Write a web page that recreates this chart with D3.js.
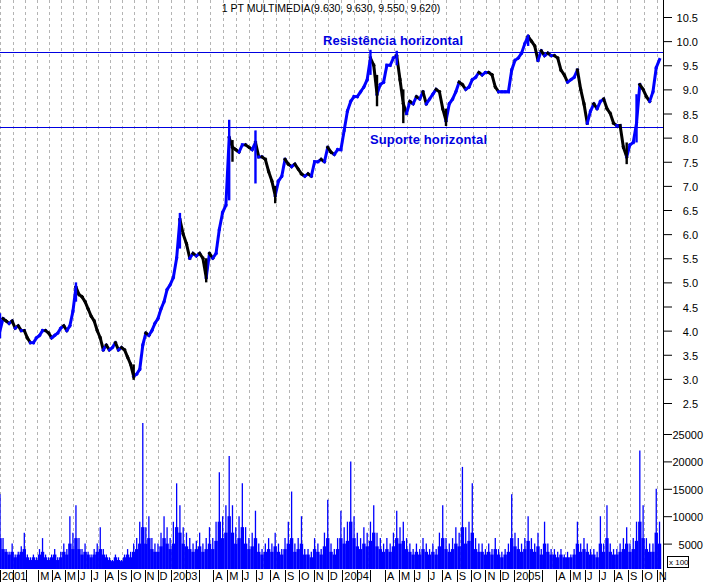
<!DOCTYPE html>
<html><head><meta charset="utf-8">
<script src="https://cdn.jsdelivr.net/npm/d3@7"></script>
<style>
body{margin:0;background:#fff;}
svg{display:block;font-family:"Liberation Sans",Arial,sans-serif;}
</style></head><body><svg id="c" width="707" height="582"></svg>
<script>
const title = "1 PT MULTIMEDIA(9.630, 9.630, 9.550, 9.620)";
const firstWeek = new Date(2001, 11, 3);
const lastDay = new Date(2005, 10, 8);
// weekly closing prices (EUR)
const closes = [
4.0,4.25,4.2,4.15,4.2,4.05,4.1,4.0,4.0,3.85,3.75,3.75,3.85,3.9,4.0,4.0,3.95,3.85,3.9,3.95,
4.05,4.1,4.0,4.1,4.4,4.9,4.75,4.7,4.6,4.45,4.3,4.2,4.0,3.85,3.6,3.7,3.6,3.65,3.75,3.6,
3.65,3.6,3.45,3.3,3.05,3.1,3.2,3.7,3.95,3.9,4.0,4.15,4.25,4.45,4.6,4.85,4.95,5.1,5.5,6.3,
6.0,5.8,5.5,5.6,5.55,5.6,5.5,5.1,5.6,5.5,5.6,6.1,6.45,6.6,8.0,7.8,7.75,7.7,7.85,7.85,
7.8,7.75,7.9,7.6,7.6,7.55,7.3,7.1,6.8,7.1,7.2,7.55,7.45,7.4,7.45,7.35,7.25,7.2,7.25,7.2,
7.5,7.5,7.55,7.5,7.8,7.7,7.65,7.75,7.75,8.15,8.55,8.75,8.85,8.85,8.95,9.05,9.2,9.65,9.5,8.9,
9.1,9.15,9.5,9.5,9.65,9.7,9.2,8.7,8.5,8.75,8.7,8.85,8.8,8.95,8.7,8.8,8.9,9.0,8.95,8.6,
8.35,8.7,8.8,8.95,9.15,9.1,9.0,9.05,9.2,9.25,9.35,9.3,9.35,9.35,9.3,9.05,8.95,8.95,8.95,8.95,
9.4,9.6,9.65,9.75,9.95,10.1,10.0,9.9,9.6,9.8,9.7,9.75,9.7,9.7,9.65,9.4,9.3,9.15,9.2,9.25,
9.4,9.0,8.7,8.3,8.55,8.7,8.6,8.75,8.8,8.6,8.5,8.3,8.25,8.25,7.8,7.6,7.85,7.9,8.3,9.1,
9.0,8.85,8.75,8.95,9.45,9.62];
// notable weekly ranges: [week index, low, high]
const spikes = [
[0,3.84,4.36],[25,4.6,5.0],[44,2.98,3.3],[59,5.7,6.44],[67,5.0,5.5],[74,6.7,8.37],
[75,7.5,7.95],[82,7.05,8.15],[88,6.64,7.0],[117,9.3,9.82],[119,8.65,9.3],[125,9.5,9.8],
[127,8.3,9.0],[140,8.24,8.6],[165,9.9,10.13],[195,7.45,7.9],[198,7.9,8.9]];
// weekly peak daily volume (x 100 shares)
const volPeak = [
14000,6000,4000,3500,5000,3000,3500,4500,7000,3000,2500,3000,2500,4000,6000,3000,2500,3000,4000,2500,
3500,5000,4000,10000,7000,12000,6000,4000,5000,3500,3000,4000,5000,8000,4000,3000,2500,2000,3000,2500,
2000,3000,4000,3500,5000,6000,9000,27000,8000,10000,6000,5000,5000,7000,10000,8000,6000,9000,16000,12000,
8000,7000,6000,5000,5500,7000,5000,6000,8000,6000,9000,18000,10000,12000,21000,12000,8000,10000,16000,8000,
6000,7000,11000,5000,4000,5000,6000,5000,7000,5000,4000,6000,9000,14500,5000,6000,10000,4000,4000,3500,
6000,5000,4000,7000,13000,5000,4000,6000,11000,8000,9000,20000,10000,7000,6000,8000,7000,9000,12000,7000,
6000,5000,6000,5000,7000,11000,8000,9000,6000,5000,4000,5000,4000,6000,5000,4000,5000,4000,7000,12000,
6000,5000,6000,8000,7000,19000,8000,9000,16000,6000,5000,5000,4000,5000,4000,6000,4000,3500,4000,5000,
14000,7000,6000,5000,6000,10000,6000,5000,7000,4000,9000,5000,4000,4000,3500,4000,3000,3500,3000,4000,
9000,5000,6000,5000,4000,4000,3500,10000,5000,12000,5000,4000,4000,5000,6000,8000,5000,6000,9000,22000,
12000,6000,5000,5000,15000,9000];
// weekly typical daily volume (x 100 shares)
const volTypical = [
6000,4000,3500,3000,3500,2500,3000,3500,4000,2500,2000,2500,2000,3000,3500,2500,2000,2500,3000,2000,
2500,3500,3000,5000,4000,6000,4000,3000,3500,3000,2500,3000,3500,4000,3000,2500,2000,1800,2500,2000,
1800,2500,3000,2500,3500,4000,5000,8000,5000,6000,4000,3500,3500,4500,6000,5000,4000,5000,8000,7000,
5000,4500,4000,3500,4000,4500,3500,4000,5000,4000,5500,9000,6000,7000,10000,7000,5000,6000,8000,5000,
4000,4500,6000,3500,3000,3500,4000,3500,4500,3500,3000,4000,5000,6000,3500,4000,5000,3000,3000,2500,
4000,3500,3000,4500,6000,3500,3000,4000,6000,5000,5500,9000,6000,4500,4000,5000,4500,5500,7000,4500,
4000,3500,4000,3500,4500,6000,5000,5500,4000,3500,3000,3500,3000,4000,3500,3000,3500,3000,4500,6000,
4000,3500,4000,5000,4500,8000,5000,5500,7000,4000,3500,3500,3000,3500,3000,4000,3000,2500,3000,3500,
6000,4500,4000,3500,4000,5500,4000,3500,4500,3000,5000,3500,3000,3000,2500,3000,2500,2500,2500,3000,
5000,3500,4000,3500,3000,3000,2500,5000,3500,6000,3500,3000,3000,3500,4000,5000,3500,4000,5500,9000,
6000,4000,3500,3500,7000,5000];
const monthLabels = [
"2001","","","M","A","M","J","J","A","S","O","N","D",
"2003","","","A","M","J","J","A","S","O","N","D",
"2004","","","A","M","J","J","A","S","O","N","D",
"2005","","","A","M","J","J","A","S","O","N"];
const resistanceLevel = 9.78, supportLevel = 8.22;
const resistanceText = "Resistência horizontal", supportText = "Suporte horizontal";

const svg = d3.select("#c");
const W = 707, H = 582, axisX = 663, volBase = 569;
const weeks = closes.map((c, i) => ({date: d3.timeDay.offset(firstWeek, 7 * i), close: c, peak: volPeak[i], typ: volTypical[i]}));

const x = d3.scaleTime()
  .domain([firstWeek, new Date(2003, 0, 1), lastDay])
  .range([0, 171, 660]);
const y = d3.scaleLinear().domain([2.5, 10.5]).range([403, 17]);
const yv = d3.scaleLinear().domain([0, 25000]).range([571, 434]);

svg.append("rect").attr("width", W).attr("height", H).attr("fill", "#fff");

// vertical dashed grid (every 4 weeks)
const gridDates = d3.timeDay.range(new Date(2001, 11, 4), lastDay, 28);
svg.append("g").selectAll("line").data(gridDates).join("line")
  .attr("x1", d => Math.round(x(d)) + 0.5).attr("x2", d => Math.round(x(d)) + 0.5)
  .attr("y1", 0).attr("y2", volBase)
  .attr("stroke", "#b4b4b4").attr("stroke-dasharray", "3,3");

// volume: typical level as solid mass, peaks as thin spikes
const bw = 3.4;
const gVol = svg.append("g");
gVol.selectAll("rect").data(weeks).join("rect")
  .attr("x", d => x(d.date) - bw / 2).attr("width", bw)
  .attr("y", d => Math.min(yv(d.typ), volBase)).attr("height", d => Math.max(0, volBase - yv(d.typ)))
  .attr("fill", "#0000ff");
gVol.selectAll("line").data(weeks).join("line")
  .attr("x1", d => x(d.date)).attr("x2", d => x(d.date))
  .attr("y1", volBase).attr("y2", d => yv(d.peak))
  .attr("stroke", "#0000ff").attr("stroke-width", 1.3);

// horizontal lines
[resistanceLevel, supportLevel].forEach(v => {
  svg.append("line").attr("x1", 0).attr("x2", axisX).attr("y1", Math.round(y(v)) + 0.5).attr("y2", Math.round(y(v)) + 0.5)
    .attr("stroke", "#0000e0").attr("stroke-width", 1);
});

// price segments
const segs = d3.pairs(weeks);
const upCol = "#0000ff", downCol = "#000";
svg.append("g").selectAll("line").data(segs).join("line")
  .attr("x1", d => x(d[0].date)).attr("y1", d => y(d[0].close))
  .attr("x2", d => x(d[1].date)).attr("y2", d => y(d[1].close))
  .attr("stroke", d => d[1].close >= d[0].close ? upCol : downCol)
  .attr("stroke-width", 3).attr("stroke-linecap", "square");
// weekly ranges for notable spikes
svg.append("g").selectAll("line").data(spikes).join("line")
  .attr("x1", d => x(weeks[d[0]].date)).attr("x2", d => x(weeks[d[0]].date))
  .attr("y1", d => y(d[1])).attr("y2", d => y(d[2]))
  .attr("stroke", d => (d[0] === 0 || weeks[d[0]].close >= weeks[d[0] - 1].close) ? upCol : downCol)
  .attr("stroke-width", 2.4);

// annotations
svg.append("text").attr("x", 323).attr("y", 45).text(resistanceText)
  .attr("font-size", 13).attr("font-weight", "bold").attr("fill", "#0000e0")
  .attr("textLength", 140).attr("lengthAdjust", "spacing");
svg.append("text").attr("x", 370).attr("y", 144).text(supportText)
  .attr("font-size", 13).attr("font-weight", "bold").attr("fill", "#0000e0")
  .attr("textLength", 117).attr("lengthAdjust", "spacing");

// title
svg.append("text").attr("x", 331).attr("y", 12).attr("text-anchor", "middle")
  .attr("font-size", 10.5).attr("fill", "#000").text(title);

// right axis
svg.append("line").attr("x1", axisX + 0.5).attr("x2", axisX + 0.5).attr("y1", 0).attr("y2", H).attr("stroke", "#000");
const priceMajor = d3.range(2.5, 10.51, 0.5);
const priceMinor = d3.range(23, 109, 1).map(v => v / 10);
const gP = svg.append("g").attr("transform", `translate(${axisX},0)`);
gP.call(d3.axisRight(y).tickValues(priceMinor).tickSize(5).tickFormat(""));
gP.call(d3.axisRight(y).tickValues(priceMajor).tickSize(9).tickFormat(""));
gP.selectAll("path.domain").remove();
svg.append("g").selectAll("text").data(priceMajor).join("text")
  .attr("x", 698).attr("y", d => y(d) + 5).attr("text-anchor", "end")
  .attr("font-size", 11).text(d => d3.format(".1f")(d));

const volMajor = d3.range(5000, 25001, 5000);
const volMinor = d3.range(1000, 28001, 1000);
const gV = svg.append("g").attr("transform", `translate(${axisX},0)`);
gV.call(d3.axisRight(yv).tickValues(volMinor).tickSize(5).tickFormat(""));
gV.call(d3.axisRight(yv).tickValues(volMajor).tickSize(9).tickFormat(""));
gV.selectAll("path.domain").remove();
svg.append("g").selectAll("text").data(volMajor).join("text")
  .attr("x", 703).attr("y", d => yv(d) + 5).attr("text-anchor", "end")
  .attr("font-size", 11).text(d => d);
svg.append("rect").attr("x", 667.5).attr("y", 556.5).attr("width", 21).attr("height", 11)
  .attr("fill", "#fff").attr("stroke", "#000");
svg.append("text").attr("x", 669).attr("y", 565).attr("font-size", 8).text("x 100");

// bottom time axis
const tickDates = d3.timeMonth.range(new Date(2001, 11, 1), new Date(2005, 11, 1));
const gx = svg.append("g");
gx.append("rect").attr("x", 0).attr("y", volBase + 1).attr("width", axisX).attr("height", H - volBase).attr("fill", "#fff");
gx.selectAll("line").data(tickDates).join("line")
  .attr("x1", d => Math.max(0.5, Math.round(x(d)) + 0.5)).attr("x2", d => Math.max(0.5, Math.round(x(d)) + 0.5))
  .attr("y1", volBase + 1).attr("y2", H).attr("stroke", "#000");
gx.selectAll("text").data(tickDates).join("text")
  .attr("x", d => Math.max(0, x(d)) + 2).attr("y", H - 2)
  .attr("font-size", 11).text((d, i) => monthLabels[i]);
</script></body></html>
